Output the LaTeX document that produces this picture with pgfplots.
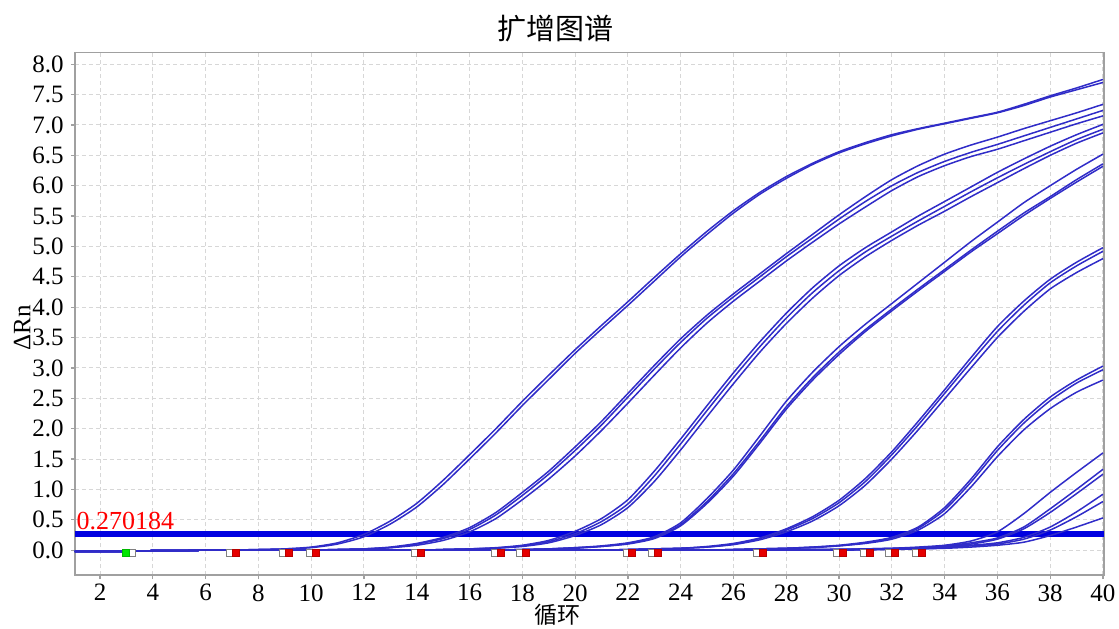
\documentclass[border=0pt]{standalone}
\usepackage{pgfplots}
\pgfplotsset{compat=1.18}
\usepackage{fontspec}
\setmainfont{Liberation Serif}
\newfontfamily\cjk{Noto Sans CJK SC}
\definecolor{pcr}{RGB}{48,44,200}
\definecolor{thr}{RGB}{0,0,225}
\definecolor{axgray}{RGB}{160,160,160}
\definecolor{gridgray}{RGB}{215,215,215}
\definecolor{mkred}{RGB}{230,0,0}
\definecolor{mkgreen}{RGB}{0,230,0}
\tikzset{pcrline/.style={color=pcr, line width=0.75pt, line join=round, smooth, tension=0.4}}
\begin{document}
\begin{tikzpicture}
\useasboundingbox (0,0) rectangle (559.5pt,314pt);
\begin{axis}[
  at={(37.5pt,26.5pt)}, anchor=south west,
  width=514.5pt, height=261.15pt, scale only axis,
  xmin=1.05, xmax=40.04, ymin=-0.41, ymax=8.19,
  xtick={2,4,...,40},
  ytick={0,0.5,...,8},
  /pgf/number format/assume math mode=true,
  tick label style={font=\fontsize{12.5}{14}\selectfont, inner sep=0pt},
  yticklabel style={anchor=east, xshift=-3.5pt, /pgf/number format/fixed, /pgf/number format/fixed zerofill, /pgf/number format/precision=1},
  xticklabel style={anchor=north, yshift=-2.5pt},
  tick align=outside, major tick length=2pt,
  xtick pos=bottom, ytick pos=left,
  tick style={axgray, line width=0.6pt},
  axis line style={axgray, line width=0.7pt},
  grid=major,
  grid style={gridgray, line width=0.5pt, dash pattern=on 2pt off 1.5pt},
]
% threshold
\addplot[thr, line width=3pt, forget plot] coordinates {(1.05,0.27)(40.04,0.27)};
% group 1
\addplot[pcrline] coordinates {(1,-0.02)(2,-0.02)(3,-0.02)(4,-0.01)(5,-0.01)(6,0)(7,0)(8,0.01)(9,0.02)(10,0.05)(11,0.12)(12,0.26)(13,0.48)(14,0.77)(15,1.15)(16,1.57)(17,2.0)(18,2.45)(19,2.88)(20,3.3)(21,3.7)(22,4.09)(23,4.49)(24,4.88)(25,5.25)(26,5.59)(27,5.89)(28,6.15)(29,6.37)(30,6.56)(31,6.71)(32,6.84)(33,6.94)(34,7.03)(35,7.12)(36,7.21)(37,7.34)(38,7.48)(39,7.61)(40,7.75)};
\addplot[pcrline] coordinates {(1,-0.02)(2,-0.02)(3,-0.02)(4,-0.01)(5,-0.01)(6,0)(7,0)(8,0.01)(9,0.02)(10,0.04)(11,0.10)(12,0.22)(13,0.43)(14,0.71)(15,1.08)(16,1.5)(17,1.93)(18,2.38)(19,2.81)(20,3.24)(21,3.64)(22,4.03)(23,4.43)(24,4.83)(25,5.2)(26,5.55)(27,5.86)(28,6.12)(29,6.35)(30,6.54)(31,6.69)(32,6.82)(33,6.93)(34,7.02)(35,7.11)(36,7.2)(37,7.32)(38,7.46)(39,7.58)(40,7.7)};
% group 2
\addplot[pcrline] coordinates {(1,-0.02)(2,-0.02)(3,-0.02)(4,-0.01)(5,-0.01)(6,0)(7,0)(8,0)(9,0)(10,0)(11,0.01)(12,0.02)(13,0.05)(14,0.11)(15,0.21)(16,0.37)(17,0.62)(18,0.95)(19,1.3)(20,1.7)(21,2.12)(22,2.58)(23,3.04)(24,3.48)(25,3.87)(26,4.22)(27,4.55)(28,4.88)(29,5.2)(30,5.52)(31,5.82)(32,6.1)(33,6.33)(34,6.52)(35,6.67)(36,6.8)(37,6.94)(38,7.07)(39,7.2)(40,7.34)};
\addplot[pcrline] coordinates {(1,-0.02)(2,-0.02)(3,-0.02)(4,-0.01)(5,-0.01)(6,0)(7,0)(8,0)(9,0)(10,0)(11,0.01)(12,0.02)(13,0.04)(14,0.1)(15,0.19)(16,0.34)(17,0.58)(18,0.9)(19,1.25)(20,1.64)(21,2.06)(22,2.52)(23,2.98)(24,3.42)(25,3.82)(26,4.17)(27,4.5)(28,4.83)(29,5.14)(30,5.45)(31,5.74)(32,6.0)(33,6.22)(34,6.4)(35,6.55)(36,6.68)(37,6.82)(38,6.96)(39,7.1)(40,7.24)};
\addplot[pcrline] coordinates {(1,-0.02)(2,-0.02)(3,-0.02)(4,-0.01)(5,-0.01)(6,0)(7,0)(8,0)(9,0)(10,0)(11,0.01)(12,0.02)(13,0.04)(14,0.08)(15,0.16)(16,0.3)(17,0.52)(18,0.83)(19,1.17)(20,1.55)(21,1.97)(22,2.42)(23,2.88)(24,3.33)(25,3.74)(26,4.1)(27,4.43)(28,4.76)(29,5.07)(30,5.37)(31,5.65)(32,5.92)(33,6.15)(34,6.33)(35,6.48)(36,6.6)(37,6.74)(38,6.88)(39,7.02)(40,7.15)};
% group 3
\addplot[pcrline] coordinates {(1,-0.02)(2,-0.02)(3,-0.02)(4,-0.01)(5,-0.01)(6,0)(7,0)(10,0)(14,0)(15,0.01)(16,0.02)(17,0.04)(18,0.08)(19,0.16)(20,0.31)(21,0.52)(22,0.83)(23,1.3)(24,1.83)(25,2.38)(26,2.92)(27,3.43)(28,3.9)(29,4.32)(30,4.68)(31,4.98)(32,5.24)(33,5.5)(34,5.74)(35,5.98)(36,6.22)(37,6.44)(38,6.65)(39,6.84)(40,7.01)};
\addplot[pcrline] coordinates {(1,-0.02)(2,-0.02)(3,-0.02)(4,-0.01)(5,-0.01)(6,0)(7,0)(10,0)(14,0)(15,0.01)(16,0.02)(17,0.035)(18,0.07)(19,0.14)(20,0.27)(21,0.47)(22,0.76)(23,1.22)(24,1.75)(25,2.3)(26,2.84)(27,3.35)(28,3.82)(29,4.24)(30,4.6)(31,4.91)(32,5.17)(33,5.42)(34,5.66)(35,5.9)(36,6.13)(37,6.35)(38,6.56)(39,6.76)(40,6.93)};
\addplot[pcrline] coordinates {(1,-0.02)(2,-0.02)(3,-0.02)(4,-0.01)(5,-0.01)(6,0)(7,0)(10,0)(14,0)(15,0.01)(16,0.02)(17,0.03)(18,0.06)(19,0.12)(20,0.24)(21,0.42)(22,0.7)(23,1.13)(24,1.65)(25,2.2)(26,2.74)(27,3.26)(28,3.73)(29,4.15)(30,4.52)(31,4.83)(32,5.1)(33,5.35)(34,5.58)(35,5.82)(36,6.05)(37,6.28)(38,6.5)(39,6.7)(40,6.87)};
% group 4
\addplot[pcrline] coordinates {(1,-0.02)(2,-0.02)(3,-0.02)(4,-0.01)(5,-0.01)(6,0)(7,0)(10,0)(14,0)(17,0)(18,0.01)(19,0.02)(20,0.04)(21,0.07)(22,0.12)(23,0.22)(24,0.45)(25,0.85)(26,1.32)(27,1.88)(28,2.45)(29,2.93)(30,3.35)(31,3.72)(32,4.06)(33,4.4)(34,4.74)(35,5.08)(36,5.4)(37,5.72)(38,6.0)(39,6.27)(40,6.52)};
\addplot[pcrline] coordinates {(1,-0.02)(2,-0.02)(3,-0.02)(4,-0.01)(5,-0.01)(6,0)(7,0)(10,0)(14,0)(17,0)(18,0.01)(19,0.02)(20,0.04)(21,0.06)(22,0.11)(23,0.2)(24,0.42)(25,0.8)(26,1.26)(27,1.8)(28,2.36)(29,2.84)(30,3.26)(31,3.63)(32,3.97)(33,4.3)(34,4.62)(35,4.94)(36,5.25)(37,5.55)(38,5.82)(39,6.1)(40,6.36)};
\addplot[pcrline] coordinates {(1,-0.02)(2,-0.02)(3,-0.02)(4,-0.01)(5,-0.01)(6,0)(7,0)(10,0)(14,0)(17,0)(18,0.01)(19,0.02)(20,0.03)(21,0.06)(22,0.1)(23,0.19)(24,0.4)(25,0.77)(26,1.22)(27,1.76)(28,2.32)(29,2.8)(30,3.22)(31,3.6)(32,3.94)(33,4.27)(34,4.59)(35,4.91)(36,5.21)(37,5.51)(38,5.79)(39,6.06)(40,6.32)};
% group 5
\addplot[pcrline] coordinates {(1,-0.02)(2,-0.02)(3,-0.02)(4,-0.01)(5,-0.01)(6,0)(7,0)(10,0)(14,0)(18,0)(21,0)(22,0.01)(23,0.02)(24,0.03)(25,0.06)(26,0.11)(27,0.2)(28,0.35)(29,0.55)(30,0.82)(31,1.18)(32,1.62)(33,2.12)(34,2.64)(35,3.17)(36,3.68)(37,4.1)(38,4.46)(39,4.74)(40,4.98)};
\addplot[pcrline] coordinates {(1,-0.02)(2,-0.02)(3,-0.02)(4,-0.01)(5,-0.01)(6,0)(7,0)(10,0)(14,0)(18,0)(21,0)(22,0.01)(23,0.02)(24,0.03)(25,0.05)(26,0.1)(27,0.19)(28,0.33)(29,0.52)(30,0.78)(31,1.13)(32,1.57)(33,2.06)(34,2.58)(35,3.1)(36,3.6)(37,4.03)(38,4.4)(39,4.68)(40,4.92)};
\addplot[pcrline] coordinates {(1,-0.02)(2,-0.02)(3,-0.02)(4,-0.01)(5,-0.01)(6,0)(7,0)(10,0)(14,0)(18,0)(21,0)(22,0.01)(23,0.02)(24,0.03)(25,0.05)(26,0.09)(27,0.17)(28,0.3)(29,0.48)(30,0.73)(31,1.07)(32,1.5)(33,1.98)(34,2.49)(35,3.0)(36,3.5)(37,3.93)(38,4.3)(39,4.57)(40,4.8)};
% group 6
\addplot[pcrline] coordinates {(1,-0.02)(2,-0.02)(3,-0.02)(4,-0.01)(5,-0.01)(6,0)(7,0)(10,0)(14,0)(18,0)(22,0)(25,0)(26,0.01)(27,0.02)(28,0.03)(29,0.05)(30,0.08)(31,0.13)(32,0.21)(33,0.38)(34,0.7)(35,1.17)(36,1.7)(37,2.15)(38,2.52)(39,2.8)(40,3.03)};
\addplot[pcrline] coordinates {(1,-0.02)(2,-0.02)(3,-0.02)(4,-0.01)(5,-0.01)(6,0)(7,0)(10,0)(14,0)(18,0)(22,0)(25,0)(26,0.01)(27,0.02)(28,0.03)(29,0.05)(30,0.07)(31,0.12)(32,0.2)(33,0.36)(34,0.66)(35,1.12)(36,1.64)(37,2.09)(38,2.46)(39,2.75)(40,2.97)};
\addplot[pcrline] coordinates {(1,-0.02)(2,-0.02)(3,-0.02)(4,-0.01)(5,-0.01)(6,0)(7,0)(10,0)(14,0)(18,0)(22,0)(25,0)(26,0.01)(27,0.02)(28,0.03)(29,0.04)(30,0.07)(31,0.11)(32,0.18)(33,0.33)(34,0.6)(35,1.04)(36,1.54)(37,1.98)(38,2.33)(39,2.6)(40,2.8)};
% group 7
\addplot[pcrline] coordinates {(1,-0.02)(2,-0.02)(3,-0.02)(4,-0.01)(5,-0.01)(6,0)(7,0)(10,0)(14,0)(18,0)(22,0)(26,0)(28,0.01)(30,0.015)(31,0.02)(32,0.03)(33,0.05)(34,0.08)(35,0.15)(36,0.3)(37,0.6)(38,0.95)(39,1.28)(40,1.6)};
\addplot[pcrline] coordinates {(1,-0.02)(2,-0.02)(3,-0.02)(4,-0.01)(5,-0.01)(6,0)(7,0)(10,0)(14,0)(18,0)(22,0)(26,0)(28,0.005)(30,0.01)(31,0.02)(32,0.03)(33,0.04)(34,0.07)(35,0.12)(36,0.2)(37,0.38)(38,0.68)(39,1.0)(40,1.33)};
\addplot[pcrline] coordinates {(1,-0.02)(2,-0.02)(3,-0.02)(4,-0.01)(5,-0.01)(6,0)(7,0)(10,0)(14,0)(18,0)(22,0)(26,0)(28,0.005)(30,0.01)(32,0.02)(33,0.035)(34,0.06)(35,0.1)(36,0.18)(37,0.35)(38,0.62)(39,0.93)(40,1.25)};
\addplot[pcrline] coordinates {(1,-0.02)(2,-0.02)(3,-0.02)(4,-0.01)(5,-0.01)(6,0)(7,0)(10,0)(14,0)(18,0)(22,0)(26,0)(29,0)(31,0.01)(32,0.02)(33,0.03)(34,0.05)(35,0.08)(36,0.12)(37,0.21)(38,0.38)(39,0.63)(40,0.92)};
\addplot[pcrline] coordinates {(1,-0.02)(2,-0.02)(3,-0.02)(4,-0.01)(5,-0.01)(6,0)(7,0)(10,0)(14,0)(18,0)(22,0)(26,0)(29,0)(31,0.01)(33,0.02)(34,0.04)(35,0.07)(36,0.1)(37,0.18)(38,0.33)(39,0.55)(40,0.8)};
\addplot[pcrline] coordinates {(1,-0.02)(2,-0.02)(3,-0.02)(4,-0.01)(5,-0.01)(6,0)(7,0)(10,0)(14,0)(18,0)(22,0)(26,0)(30,0)(32,0.01)(34,0.03)(35,0.05)(36,0.08)(37,0.13)(38,0.24)(39,0.38)(40,0.53)};
% baseline markers
\addplot[only marks, mark=square*, mark size=1.75pt, mark options={fill=white, draw=gray, line width=0.5pt}] coordinates {(3.2,-0.05)(6.93,-0.05)(8.94,-0.05)(9.95,-0.05)(13.93,-0.05)(16.95,-0.05)(17.93,-0.05)(21.95,-0.05)(22.9,-0.05)(26.91,-0.05)(29.93,-0.05)(30.95,-0.05)(31.9,-0.05)(32.91,-0.05)};
\addplot[only marks, mark=square*, mark size=1.75pt, mark options={fill=mkred, draw=mkred!80!black, line width=0.4pt}] coordinates {(7.15,-0.05)(9.16,-0.05)(10.17,-0.05)(14.15,-0.05)(17.17,-0.05)(18.15,-0.05)(22.17,-0.05)(23.12,-0.05)(27.13,-0.05)(30.15,-0.05)(31.17,-0.05)(32.12,-0.05)(33.13,-0.05)};
\addplot[only marks, mark=square*, mark size=1.75pt, mark options={fill=mkgreen, draw=mkgreen!80!black, line width=0.4pt}] coordinates {(2.98,-0.05)};
\node[anchor=base west, inner sep=0pt, text=red, font=\fontsize{13}{15}\selectfont] at (axis cs:1.1,0.27) [yshift=2.2pt] {0.270184};
\end{axis}
\node[font=\cjk\fontsize{14.5}{16}\selectfont] at (277.5pt,299.5pt) {扩增图谱};
\node[font=\cjk\fontsize{11.5}{13}\selectfont] at (278.5pt,6.5pt) {循环};
\node[rotate=90, font=\fontsize{12.5}{14}\selectfont] at (11pt,150pt) {ΔRn};
\end{tikzpicture}
\end{document}
